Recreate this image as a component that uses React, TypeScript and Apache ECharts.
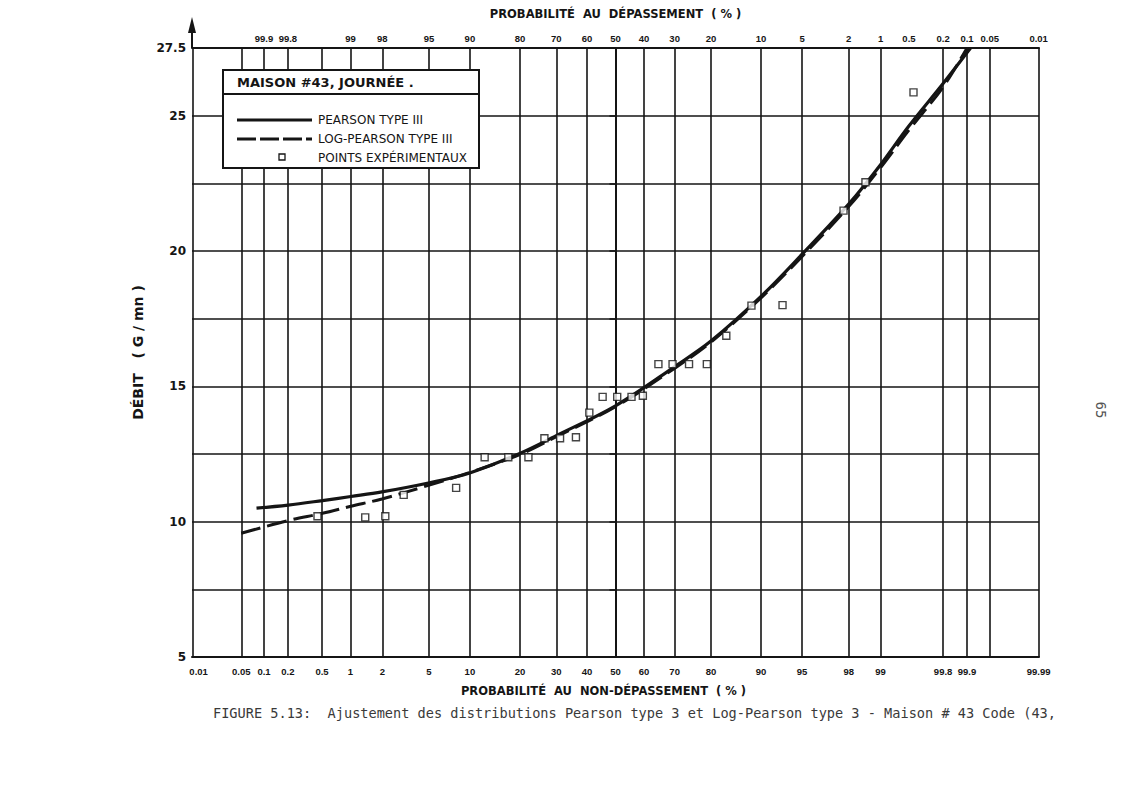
import React, { useEffect, useRef } from "react";
import * as echarts from "echarts";

// Non-exceedance probabilities (%) and discharges (G/mn)
const pearsonPct = [0.08, 0.2, 0.5, 1, 2, 5, 10, 20, 30, 50, 70, 80, 90, 95, 98, 99, 99.5, 99.8, 99.91];
const pearsonVal = [10.5, 10.61, 10.78, 10.93, 11.1, 11.43, 11.8, 12.52, 13.17, 14.28, 15.74, 16.68, 18.33, 19.9, 21.75, 23.17, 24.6, 26.18, 27.5];

const logPearsonPct = [0.05, 0.2, 0.5, 1, 2, 5, 10, 20, 30, 50, 70, 80, 90, 95, 98, 99, 99.5, 99.8, 99.9];
const logPearsonVal = [9.57, 10.04, 10.31, 10.57, 10.84, 11.34, 11.82, 12.48, 13.13, 14.25, 15.68, 16.64, 18.28, 19.82, 21.66, 23.06, 24.45, 26.05, 27.5];

const pointPct = [0.44, 1.39, 2.15, 3.13, 8.06, 12.5, 17.3, 22.2, 26.6, 31.3, 36.4, 40.9, 45.5, 50.6, 55.6, 59.5, 64.7, 69.2, 74.1, 78.9, 83.5, 88.4, 92.9, 97.75, 98.6, 99.56];
const pointVal = [10.2, 10.16, 10.2, 10.99, 11.25, 12.38, 12.38, 12.38, 13.08, 13.08, 13.12, 14.03, 14.61, 14.61, 14.61, 14.65, 15.82, 15.82, 15.82, 15.82, 16.87, 17.98, 18.0, 21.49, 22.54, 25.86];

// Probability-paper rulings (non-exceedance %) with their bottom labels
const gridPct = [0.01, 0.05, 0.1, 0.2, 0.5, 1, 2, 5, 10, 20, 30, 40, 50, 60, 70, 80, 90, 95, 98, 99, 99.8, 99.9, 99.95, 99.99];
const bottomLabels = ["0.01", "0.05", "0.1", "0.2", "0.5", "1", "2", "5", "10", "20", "30", "40", "50", "60", "70", "80", "90", "95", "98", "99", "99.8", "99.9", "", "99.99"];

// Exceedance labels along the top, positioned at the matching non-exceedance %
const topPct = [0.1, 0.2, 1, 2, 5, 10, 20, 30, 40, 50, 60, 70, 80, 90, 95, 98, 99, 99.5, 99.8, 99.9, 99.95, 99.99];
const topLabels = ["99.9", "99.8", "99", "98", "95", "90", "80", "70", "60", "50", "40", "30", "20", "10", "5", "2", "1", "0.5", "0.2", "0.1", "0.05", "0.01"];

const legendLabels = ["PEARSON TYPE III", "LOG-PEARSON TYPE III", "POINTS EXPÉRIMENTAUX"];
const legendTitle = "MAISON #43, JOURNÉE .";
const caption = "FIGURE 5.13:  Ajustement des distributions Pearson type 3 et Log-Pearson type 3 - Maison # 43 Code (43,";

// Inverse standard normal CDF (Acklam)
function probit(p: number): number {
  const a = [-3.969683028665376e1, 2.209460984245205e2, -2.759285104469687e2, 1.38357751867269e2, -3.066479806614716e1, 2.506628277459239];
  const b = [-5.447609879822406e1, 1.615858368580409e2, -1.556989798598866e2, 6.680131188771972e1, -1.328068155288572e1];
  const c = [-7.784894002430293e-3, -3.223964580411365e-1, -2.400758277161838, -2.549732539343734, 4.374664141464968, 2.938163982698783];
  const d = [7.784695709041462e-3, 3.224671290700398e-1, 2.445134137142996, 3.754408661907416];
  const plow = 0.02425;
  if (p < plow) {
    const q = Math.sqrt(-2 * Math.log(p));
    return (((((c[0] * q + c[1]) * q + c[2]) * q + c[3]) * q + c[4]) * q + c[5]) / ((((d[0] * q + d[1]) * q + d[2]) * q + d[3]) * q + 1);
  }
  if (p > 1 - plow) {
    const q = Math.sqrt(-2 * Math.log(1 - p));
    return -(((((c[0] * q + c[1]) * q + c[2]) * q + c[3]) * q + c[4]) * q + c[5]) / ((((d[0] * q + d[1]) * q + d[2]) * q + d[3]) * q + 1);
  }
  const q = p - 0.5;
  const r = q * q;
  return ((((((a[0] * r + a[1]) * r + a[2]) * r + a[3]) * r + a[4]) * r + a[5]) * q) / (((((b[0] * r + b[1]) * r + b[2]) * r + b[3]) * r + b[4]) * r + 1);
}
const zOf = (pct: number) => probit(pct / 100);

const INK = "#151515";
const FONT = "DejaVu Sans";
const TICK_FONT = "Liberation Sans";

export default function App() {
  const ref = useRef<HTMLDivElement>(null);

  useEffect(() => {
    if (!ref.current) return;
    const chart = echarts.init(ref.current, undefined, { renderer: "svg" });

    // a hair of margin so the end rulings keep their labels
    const zMin = zOf(0.01) - 0.004;
    const zMax = zOf(99.99) + 0.004;
    const left = 192, right = 84, top = 48, bottom = 135;

    const tickFont = { fontFamily: TICK_FONT, fontWeight: "bold" as const, fontSize: 9.5, color: INK };

    const gridLines = gridPct.map((p, i) => ({
      xAxis: zOf(p),
      label: {
        show: bottomLabels[i] !== "",
        position: "start",
        formatter: bottomLabels[i],
        distance: 9,
        ...tickFont,
        // the first ruling's label sits just right of the corner, clear of the "5"
        ...(i === 0 ? { align: "left", offset: [-3, 0] } : {}),
      },
    }));
    const topMarks = topPct.map((p, i) => ({
      xAxis: zOf(p),
      lineStyle: { color: "rgba(0,0,0,0)", width: 0 },
      label: { show: true, position: "end", formatter: topLabels[i], distance: 5, ...tickFont },
    }));

    const lx = 223, ly = 70, lw = 256, lh = 98;

    chart.setOption({
      animation: false,
      backgroundColor: "#ffffff",
      grid: { left, right, top, bottom },
      xAxis: [
        {
          type: "value", min: zMin, max: zMax, position: "bottom",
          axisLine: { show: true, lineStyle: { color: INK, width: 2 } },
          axisTick: { show: false }, axisLabel: { show: false }, splitLine: { show: false },
          name: "PROBABILITÉ  AU  NON-DÉPASSEMENT  ( % )", nameLocation: "middle", nameGap: 28,
          nameTextStyle: { fontFamily: FONT, fontWeight: "bold", fontSize: 11.5, color: INK, padding: [0, 24, 0, 0] },
        },
        {
          type: "value", min: zMin, max: zMax, position: "top",
          axisLine: { show: true, lineStyle: { color: INK, width: 2 } },
          axisTick: { show: false }, axisLabel: { show: false }, splitLine: { show: false },
          name: "PROBABILITÉ  AU  DÉPASSEMENT  ( % )", nameLocation: "middle", nameGap: 28,
          nameTextStyle: { fontFamily: FONT, fontWeight: "bold", fontSize: 11.5, color: INK },
        },
      ],
      yAxis: [
        {
          type: "value", min: 5, max: 27.5, interval: 2.5, position: "left",
          axisLine: { show: true, lineStyle: { color: INK, width: 2 } },
          axisTick: { show: true, length: 6, lineStyle: { color: INK, width: 1.6 } },
          axisLabel: {
            fontFamily: FONT, fontWeight: "bold", fontSize: 12, color: INK, margin: 6,
            formatter: (v: number) => (v % 5 === 0 || v === 27.5 ? String(v) : ""),
          },
          splitLine: { show: true, lineStyle: { color: INK, width: 1.6 } },
          name: "DÉBIT   ( G / mn )", nameLocation: "middle", nameGap: 44, nameRotate: 90,
          nameTextStyle: { fontFamily: FONT, fontWeight: "bold", fontSize: 14, color: INK },
        },
        {
          type: "value", min: 5, max: 27.5, position: "right",
          axisLine: { show: true, lineStyle: { color: INK, width: 2 } },
          axisTick: { show: false }, axisLabel: { show: false }, splitLine: { show: false },
        },
      ],
      series: [
        {
          name: legendLabels[0],
          type: "line",
          smooth: 0.35,
          showSymbol: false,
          lineStyle: { color: INK, width: 3.2 },
          data: pearsonPct.map((p, i) => [zOf(p), pearsonVal[i]]),
          z: 4,
          markLine: {
            silent: true,
            symbol: ["none", "none"],
            lineStyle: { color: INK, width: 1.6, type: "solid" },
            data: [...gridLines, ...topMarks],
          },
        },
        {
          name: legendLabels[1],
          type: "line",
          smooth: 0.35,
          showSymbol: false,
          lineStyle: { color: INK, width: 3, type: [20, 7] },
          data: logPearsonPct.map((p, i) => [zOf(p), logPearsonVal[i]]),
          z: 4,
        },
        {
          name: legendLabels[2],
          type: "scatter",
          symbol: "rect",
          symbolSize: 7,
          itemStyle: { color: "#ffffff", borderColor: INK, borderWidth: 1.4 },
          data: pointPct.map((p, i) => [zOf(p), pointVal[i]]),
          z: 6,
        },
      ],
      graphic: [
        // arrow on the discharge axis
        { type: "line", z: 50, shape: { x1: left, y1: top, x2: left, y2: 28 }, style: { stroke: INK, lineWidth: 2 } },
        { type: "polygon", z: 50, shape: { points: [[left, 17], [left - 4, 33], [left + 4, 33]] }, style: { fill: INK } },
        // legend box
        {
          type: "group", z: 100,
          children: [
            { type: "rect", z: 100, shape: { x: lx, y: ly, width: lw, height: lh }, style: { fill: "#ffffff", stroke: INK, lineWidth: 2 } },
            { type: "line", z: 101, shape: { x1: lx, y1: ly + 24, x2: lx + lw, y2: ly + 24 }, style: { stroke: INK, lineWidth: 2 } },
            { type: "text", z: 101, x: lx + 14, y: ly + 12, style: { text: legendTitle, font: `bold 13px "${FONT}"`, fill: INK, verticalAlign: "middle" } },
            { type: "line", z: 101, shape: { x1: lx + 14, y1: ly + 50, x2: lx + 89, y2: ly + 50 }, style: { stroke: INK, lineWidth: 3 } },
            { type: "line", z: 101, shape: { x1: lx + 14, y1: ly + 69, x2: lx + 89, y2: ly + 69 }, style: { stroke: INK, lineWidth: 3, lineDash: [19, 4] } },
            { type: "rect", z: 101, shape: { x: lx + 56, y: ly + 84, width: 6, height: 6 }, style: { fill: "#ffffff", stroke: INK, lineWidth: 1.3 } },
            ...legendLabels.map((t, i) => ({
              type: "text", z: 101, x: lx + 95, y: ly + 50 + i * 19,
              style: { text: t, font: `12px "${FONT}"`, fill: INK, verticalAlign: "middle" },
            })),
          ],
        },
        // caption and page number
        { type: "text", z: 50, x: 213, y: 713, style: { text: caption, font: '13.6px "DejaVu Sans Mono"', fill: "#3a3a3a", verticalAlign: "middle" } },
        { type: "text", z: 50, x: 1101, y: 410, rotation: -Math.PI / 2, style: { text: "65", font: '14px "DejaVu Sans Mono"', fill: "#555", align: "center", verticalAlign: "middle" } },
      ],
    });

    return () => chart.dispose();
  }, []);

  return <div ref={ref} style={{ position: "fixed", left: 0, top: 0, width: 1123, height: 792, background: "#fff" }} />;
}
